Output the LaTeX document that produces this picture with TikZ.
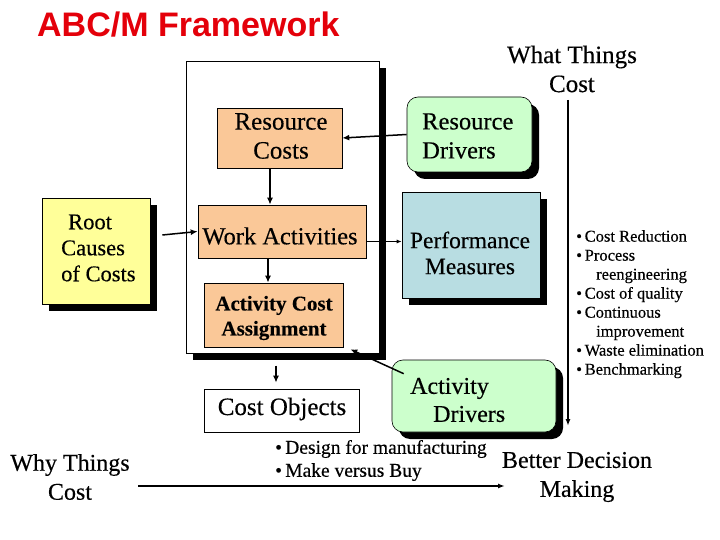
\documentclass[tikz,border=0pt]{standalone}
\usepackage{fontspec}
\setmainfont{Liberation Serif}[FakeBold=0.35]
\newfontfamily\arialf{Liberation Sans}
\usetikzlibrary{shadows,arrows.meta}
\definecolor{peach}{RGB}{250,200,152}
\definecolor{mint}{RGB}{204,255,204}
\definecolor{paleblue}{RGB}{184,221,226}
\definecolor{paleyellow}{RGB}{255,255,153}
\definecolor{titlered}{RGB}{228,0,10}
\newcommand\myfs[2]{\fontsize{#1}{#2}\selectfont}
\begin{document}
\begin{tikzpicture}[x=1pt,y=1pt,
  shad/.style={general shadow={fill=black, shadow xshift=7pt, shadow yshift=-7pt}},
  box/.style={draw=black, line width=0.6pt, inner sep=0pt},
  rbox/.style={box, rounded corners=11pt},
  txt/.style={inner sep=0pt, align=center},
  arr/.style={-{Latex[length=7pt,width=6pt]}, line width=1.5pt},
  vline/.style={-{Latex[length=7pt,width=5pt]}, line width=1.6pt}
]
\useasboundingbox (0,0) rectangle (720,-540);
\fill[white] (0,0) rectangle (720,-540);

% title
\node[inner sep=0pt, anchor=base west, text=titlered, font=\arialf\bfseries\myfs{34}{40}] (title) at (37,-37) {ABC/M Framework};

% big frame
\node[box, shad, fill=white, minimum width=193, minimum height=292] (frame) at (282.5,-207) {};

% boxes
\node[box, fill=peach, minimum width=125, minimum height=60] (rc) at (279.5,-138) {};
\node[txt, font=\myfs{25}{29}] (rct) at (281,-136) {Resource\\Costs};

\node[box, fill=peach, minimum width=168, minimum height=53] (wa) at (282,-231.5) {};
\node[txt, font=\myfs{24.5}{29}] (wat) at (280,-236) {Work Activities};

\node[box, fill=peach, minimum width=139, minimum height=64] (aca) at (273.5,-315) {};
\node[txt, font=\bfseries\myfs{21}{25}] (acat) at (274,-318) {Activity Cost\\Assignment};

\node[rbox, shad, fill=mint, minimum width=125, minimum height=75] (rd) at (469.5,-134.5) {};
\node[inner sep=0pt, align=left, anchor=west, font=\myfs{24.5}{29}] (rdt) at (422,-136) {Resource\\Drivers};

\node[box, shad, fill=paleblue, minimum width=138, minimum height=106] (pm) at (471,-245) {};
\node[txt, font=\myfs{23.5}{26}] (pmt) at (470,-253) {Performance\\Measures};

\node[box, shad, fill=paleyellow, minimum width=108, minimum height=106] (root) at (96,-251) {};
\node[inner sep=0pt, align=left, anchor=west, font=\myfs{22.5}{26}] (roott) at (61,-248) {\hspace{7pt}Root\\Causes\\of Costs};

\node[box, fill=white, minimum width=155, minimum height=43] (co) at (281.5,-410.5) {};
\node[txt, font=\myfs{25}{28}] (cot) at (282,-409) {Cost Objects};

\node[rbox, shad, fill=mint, minimum width=164, minimum height=72] (ad) at (474,-396) {};
\node[inner sep=0pt, align=left, anchor=west, font=\myfs{24}{28}] (adt) at (410,-400) {Activity\\\hspace{23pt}Drivers};

% free texts
\node[txt, font=\myfs{25}{29}] (what) at (572,-69) {What Things\\Cost};
\node[txt, font=\myfs{24}{29}] (why) at (70,-477) {Why Things\\Cost};
\node[txt, font=\myfs{24}{29}] (better) at (577,-477) {Better Decision\\Making};

\node[inner sep=0pt, align=left, anchor=north west, font=\myfs{16.5}{19}] (list) at (576,-230)
  {•\,Cost Reduction\\•\,Process\\\hspace{20pt}reengineering\\•\,Cost of quality\\•\,Continuous\\\hspace{20pt}improvement\\•\,Waste elimination\\•\,Benchmarking};

\node[inner sep=0pt, align=left, anchor=west, font=\myfs{19.5}{23}] (uses) at (275,-460.5)
  {•\,Design for manufacturing\\•\,Make versus Buy};

% connectors
\draw[arr] (rd.west) -- (rc.east);
\draw[arr] ([xshift=-9.5pt]rc.south) -- ([xshift=-9.5pt]rc.south |- wa.north);
\draw[arr] ([xshift=-14pt]wa.south) -- ([xshift=-14pt]wa.south |- aca.north);
\draw[arr] ([xshift=12pt,yshift=16pt]root.east) -- (wa.west);
\draw[-{Latex[length=5pt,width=4pt]}, line width=1.6pt] ([yshift=-10pt]wa.east) -- ([yshift=-10pt]wa.east -| pm.west);
\draw[arr] ([xshift=-5.5pt,yshift=23pt]co.north) -- ([xshift=-5.5pt,yshift=6pt]co.north);
\draw[arr] ([xshift=12pt,yshift=-14pt]ad.north west) -- ([xshift=7pt,yshift=-2pt]aca.south east);

\coordinate (vtop) at (568,-100);
\coordinate (vbot) at (568,-426);
\draw[vline] (vtop) -- (vbot);

\coordinate (hstart) at (138,-486);
\coordinate (hend) at (505,-486);
\draw[vline] (hstart) -- (hend);
\end{tikzpicture}
\end{document}
